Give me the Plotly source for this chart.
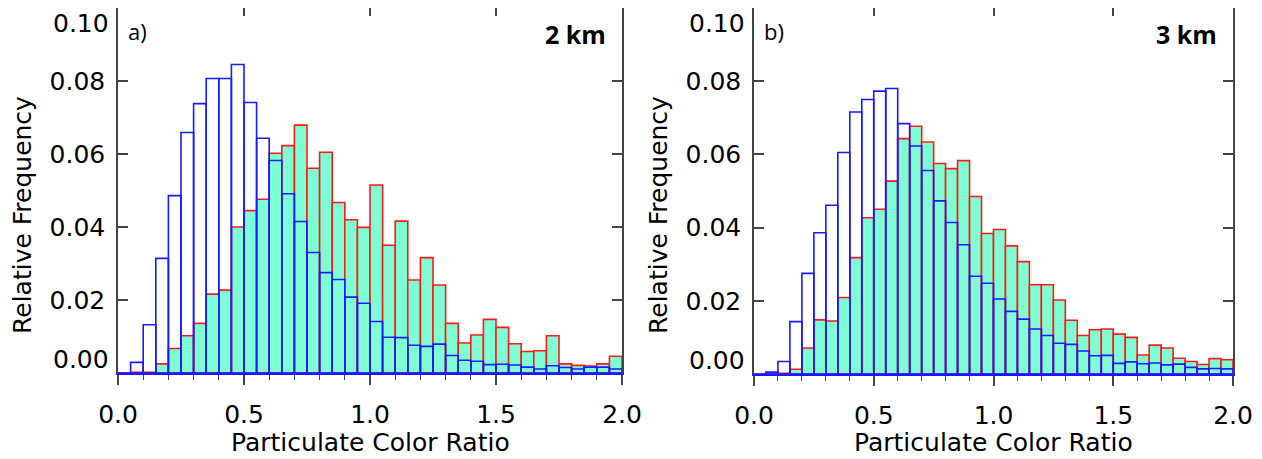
import plotly.graph_objects as go

# ---- data -------------------------------------------------------------
bin_width = 0.05
bin_centers = [round(0.025 + bin_width * i, 3) for i in range(40)]

# panel a) 2 km
red_2km = [0.0000, 0.0002, 0.0002, 0.0025, 0.0067, 0.0102, 0.0136, 0.0216, 0.0227, 0.0400,
           0.0445, 0.0476, 0.0602, 0.0623, 0.0679, 0.0561, 0.0605, 0.0467, 0.0420, 0.0399,
           0.0515, 0.0350, 0.0416, 0.0255, 0.0316, 0.0241, 0.0136, 0.0082, 0.0104, 0.0147,
           0.0125, 0.0080, 0.0059, 0.0061, 0.0102, 0.0025, 0.0021, 0.0019, 0.0025, 0.0046]
blue_2km = [0.0000, 0.0029, 0.0132, 0.0314, 0.0486, 0.0659, 0.0738, 0.0807, 0.0807, 0.0845,
            0.0741, 0.0643, 0.0582, 0.0491, 0.0415, 0.0330, 0.0275, 0.0256, 0.0208, 0.0191,
            0.0141, 0.0098, 0.0097, 0.0076, 0.0073, 0.0079, 0.0048, 0.0035, 0.0032, 0.0023,
            0.0024, 0.0022, 0.0016, 0.0011, 0.0020, 0.0015, 0.0011, 0.0016, 0.0016, 0.0011]

# panel b) 3 km
red_3km = [0.0000, 0.0000, 0.0002, 0.0013, 0.0071, 0.0148, 0.0145, 0.0209, 0.0318, 0.0427,
           0.0450, 0.0527, 0.0643, 0.0677, 0.0634, 0.0575, 0.0561, 0.0583, 0.0485, 0.0384,
           0.0395, 0.0350, 0.0307, 0.0244, 0.0244, 0.0202, 0.0147, 0.0105, 0.0121, 0.0123,
           0.0109, 0.0100, 0.0052, 0.0079, 0.0071, 0.0043, 0.0034, 0.0026, 0.0042, 0.0039]
blue_3km = [0.0000, 0.0005, 0.0034, 0.0143, 0.0275, 0.0386, 0.0461, 0.0605, 0.0716, 0.0750,
            0.0773, 0.0780, 0.0684, 0.0623, 0.0556, 0.0473, 0.0414, 0.0353, 0.0267, 0.0248,
            0.0205, 0.0171, 0.0150, 0.0123, 0.0105, 0.0084, 0.0081, 0.0063, 0.0050, 0.0051,
            0.0029, 0.0033, 0.0028, 0.0030, 0.0025, 0.0027, 0.0018, 0.0014, 0.0015, 0.0014]

x_ticks = [0.0, 0.5, 1.0, 1.5, 2.0]
x_ticktext = ["0.0", "0.5", "1.0", "1.5", "2.0"]
y_ticks = [0.00, 0.02, 0.04, 0.06, 0.08, 0.10]
y_ticktext = ["0.00", "0.02", "0.04", "0.06", "0.08", "0.10"]
panel_labels = ["a)", "b)"]
height_labels = ["2 km", "3 km"]
x_title = "Particulate Color Ratio"
y_title = "Relative Frequency"

# ---- style ------------------------------------------------------------
W, H = 1262, 459
OFF = 8  # page body margin of the browser
FILL = "#7fffd4"
RED = "#ff1a1a"
BLUE = "#1a1aff"
FRAME = "#444444"
FONT = "DejaVu Sans"

# panel frames in screen pixels
panels = [
    dict(x0=118, x1=622, y0=8, y1=373, red=red_2km, blue=blue_2km),
    dict(x0=754, x1=1233, y0=8, y1=374, red=red_3km, blue=blue_3km),
]


def px(sx):
    return (sx - OFF) / W


def py(sy):
    return 1 - (sy - OFF) / H


fig = go.Figure()
layout = dict(
    width=W, height=H, autosize=False,
    margin=dict(l=0, r=0, t=0, b=0, autoexpand=False),
    paper_bgcolor="white", plot_bgcolor="white",
    barmode="overlay", showlegend=False,
    font=dict(family=FONT, size=25, color="black"),
)
annotations = []

for k, p in enumerate(panels):
    xd = [px(p["x0"]), px(p["x1"])]
    yd = [py(p["y1"]), min(1.0, py(p["y0"]))]
    xa = "x" if k == 0 else "x%d" % (2 * k + 1)
    ya = "y" if k == 0 else "y%d" % (2 * k + 1)
    xtop = "x%d" % (2 * k + 2)
    xa_key = "xaxis" if k == 0 else "xaxis%d" % (2 * k + 1)
    ya_key = "yaxis" if k == 0 else "yaxis%d" % (2 * k + 1)
    xtop_key = "xaxis%d" % (2 * k + 2)

    fig.add_trace(go.Bar(x=bin_centers, y=p["red"], width=bin_width, xaxis=xa, yaxis=ya,
                         marker=dict(color=FILL, line=dict(color=RED, width=1.6))))
    fig.add_trace(go.Bar(x=bin_centers, y=p["blue"], width=bin_width, xaxis=xa, yaxis=ya,
                         marker=dict(color="rgba(0,0,0,0)", line=dict(color=BLUE, width=1.6))))

    layout[xa_key] = dict(
        domain=xd, anchor=ya, range=[0, 2], showgrid=False, zeroline=False, automargin=False,
        showline=True, linecolor=BLUE, linewidth=1.6,
        tickmode="array", tickvals=x_ticks, ticktext=x_ticktext,
        ticks="outside", ticklen=10, tickwidth=1.5, tickcolor=FRAME,
        ticklabelstandoff=8, ticklabeloverflow="allow",
        tickfont=dict(family=FONT, size=25),
        minor=dict(dtick=0.1, tick0=0, ticks="outside", ticklen=5, tickwidth=1.2, tickcolor=FRAME),
    )
    layout[xtop_key] = dict(
        domain=xd, anchor=ya, overlaying=xa, side="top", range=[0, 2], automargin=False,
        showgrid=False, zeroline=False, showline=True, linecolor=FRAME, linewidth=1.5,
        tickmode="array", tickvals=x_ticks, showticklabels=False,
        ticks="inside", ticklen=8, tickwidth=1.5, tickcolor=FRAME,
    )
    # end labels (0.00, 0.10) are placed inward as in the reference, via annotations
    mid_text = [t if 0 < i < len(y_ticktext) - 1 else "" for i, t in enumerate(y_ticktext)]
    layout[ya_key] = dict(
        domain=yd, anchor=xa, range=[0, 0.1], showgrid=False, zeroline=False,
        automargin=False,
        showline=True, linecolor=FRAME, linewidth=1.5, mirror="ticks",
        tickmode="array", tickvals=y_ticks, ticktext=mid_text,
        ticks="inside", ticklen=10, tickwidth=1.5, tickcolor=FRAME,
        ticklabelstandoff=6, ticklabeloverflow="allow",
        tickfont=dict(family=FONT, size=25),
    )
    # invisible trace so the top axis is drawn
    fig.add_trace(go.Scatter(x=[None], y=[None], xaxis=xtop, yaxis=ya, showlegend=False,
                             hoverinfo="skip"))

    for val, txt, anchor, shift in [(y_ticks[0], y_ticktext[0], "bottom", -3),
                                    (y_ticks[-1], y_ticktext[-1], "top", 1)]:
        annotations.append(dict(text=txt, xref="paper", yref=ya, x=px(p["x0"] - 7), y=val,
                                xanchor="right", yanchor=anchor, yshift=shift, showarrow=False,
                                font=dict(family=FONT, size=25, color="black")))

    annotations.append(dict(text=panel_labels[k], xref="paper", yref="paper",
                            x=px(p["x0"] + 8), y=py(31), xanchor="left", yanchor="middle",
                            showarrow=False, font=dict(family="Open Sans", size=22, color="black")))
    annotations.append(dict(text="<b>%s</b>" % height_labels[k], xref="paper", yref="paper",
                            x=px(p["x1"] - 14), y=py(34), xanchor="right", yanchor="middle",
                            showarrow=False, font=dict(family="Open Sans", size=25, color="black")))
    annotations.append(dict(text=x_title, xref="paper", yref="paper",
                            x=px((p["x0"] + p["x1"]) / 2), y=py(442),
                            xanchor="center", yanchor="middle", showarrow=False,
                            font=dict(family=FONT, size=25, color="black")))
    annotations.append(dict(text=y_title, xref="paper", yref="paper",
                            x=px(p["x0"] - 95), y=py(215), textangle=-90,
                            xanchor="center", yanchor="middle", showarrow=False,
                            font=dict(family=FONT, size=25, color="black")))

layout["annotations"] = annotations
fig.update_layout(**layout)
fig.write_html("out.html")
